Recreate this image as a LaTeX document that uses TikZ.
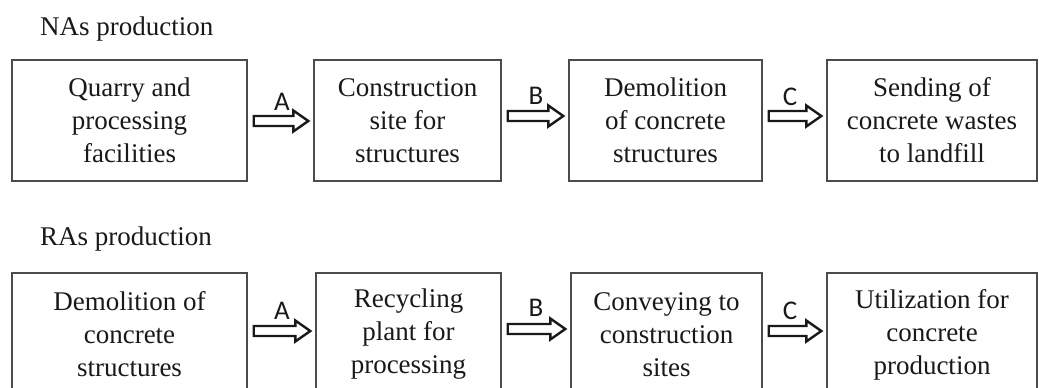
\documentclass[tikz,border=0pt]{standalone}
\usepackage{fontspec}
\setmainfont{Liberation Serif}
\newfontfamily\labfont{Carlito}
\usetikzlibrary{calc}
\newcommand\barrow[6]{%
  \coordinate (#1s) at ($(#2.east)+(#5,#4)$);
  \coordinate (#1e) at ($(#3.west)+(-#6,#4)$);
  \draw[blk] ($(#1s)+(0,-5)$) -- ($(#1e)+(-15,-5)$) -- ($(#1e)+(-15,-10.5)$) -- (#1e)
    -- ($(#1e)+(-15,10.5)$) -- ($(#1e)+(-15,5)$) -- ($(#1s)+(0,5)$) -- cycle;}
\begin{document}
\begin{tikzpicture}[x=1pt,y=-1pt,
  box/.style={draw=black!70, line width=1.4pt, align=center,
    font=\fontsize{27}{33}\selectfont, text=black!90, inner sep=0pt},
  lab/.style={font=\labfont\fontsize{27}{30}\selectfont, text=black!90, inner sep=0pt},
  head/.style={font=\fontsize{27}{33}\selectfont, text=black!90, anchor=base west, inner sep=0pt},
  blk/.style={draw=black!90, line width=2.4pt, line join=miter}]
\useasboundingbox (0,0) rectangle (1039,388);
\clip (0,0) rectangle (1039,388);

\node[head] (h1) at (40,35) {NAs production};
\node[head] (h2) at (40,245) {RAs production};

% top row
\node[box, minimum width=235pt, minimum height=121pt] (t1) at (129.5,120.5) {Quarry and\\processing\\facilities};
\node[box, minimum width=187pt, minimum height=121pt] (t2) at (407.5,120.5) {Construction\\site for\\structures};
\node[box, minimum width=193pt, minimum height=121pt] (t3) at (665.5,120.5) {Demolition\\of concrete\\structures};
\node[box, minimum width=210pt, minimum height=121pt] (t4) at (932,120.5) {Sending of\\concrete wastes\\to landfill};

% bottom row
\node[box, minimum width=235pt, minimum height=123pt] (b1) at (129.5,334.5) {Demolition of\\concrete\\structures};
\node[box, minimum width=185pt, minimum height=123pt] (b2) at (408.5,334.5) {Recycling\\plant for\\processing};
\node[box, minimum width=191pt, minimum height=123pt] (b3) at (666.5,334.5) {Conveying to\\construction\\sites};
\node[box, minimum width=210pt, minimum height=123pt] (b4) at (932,334.5) {Utilization for\\concrete\\production};

% arrows
\barrow{ta}{t1}{t2}{0.5}{6}{5}
\barrow{tb}{t2}{t3}{-4.5}{6}{5}
\barrow{tc}{t3}{t4}{-4.5}{6}{5}
\barrow{ba}{b1}{b2}{-3.5}{6}{5}
\barrow{bb}{b2}{b3}{-5.5}{6}{5}
\barrow{bc}{b3}{b4}{-3.5}{6}{5}

% labels
\node[lab] (lta) at (282,102) {A};
\node[lab] (ltb) at (536,96) {B};
\node[lab] (ltc) at (790,97) {C};
\node[lab] (lba) at (282,311) {A};
\node[lab] (lbb) at (536,308) {B};
\node[lab] (lbc) at (790,311) {C};
\end{tikzpicture}
\end{document}
